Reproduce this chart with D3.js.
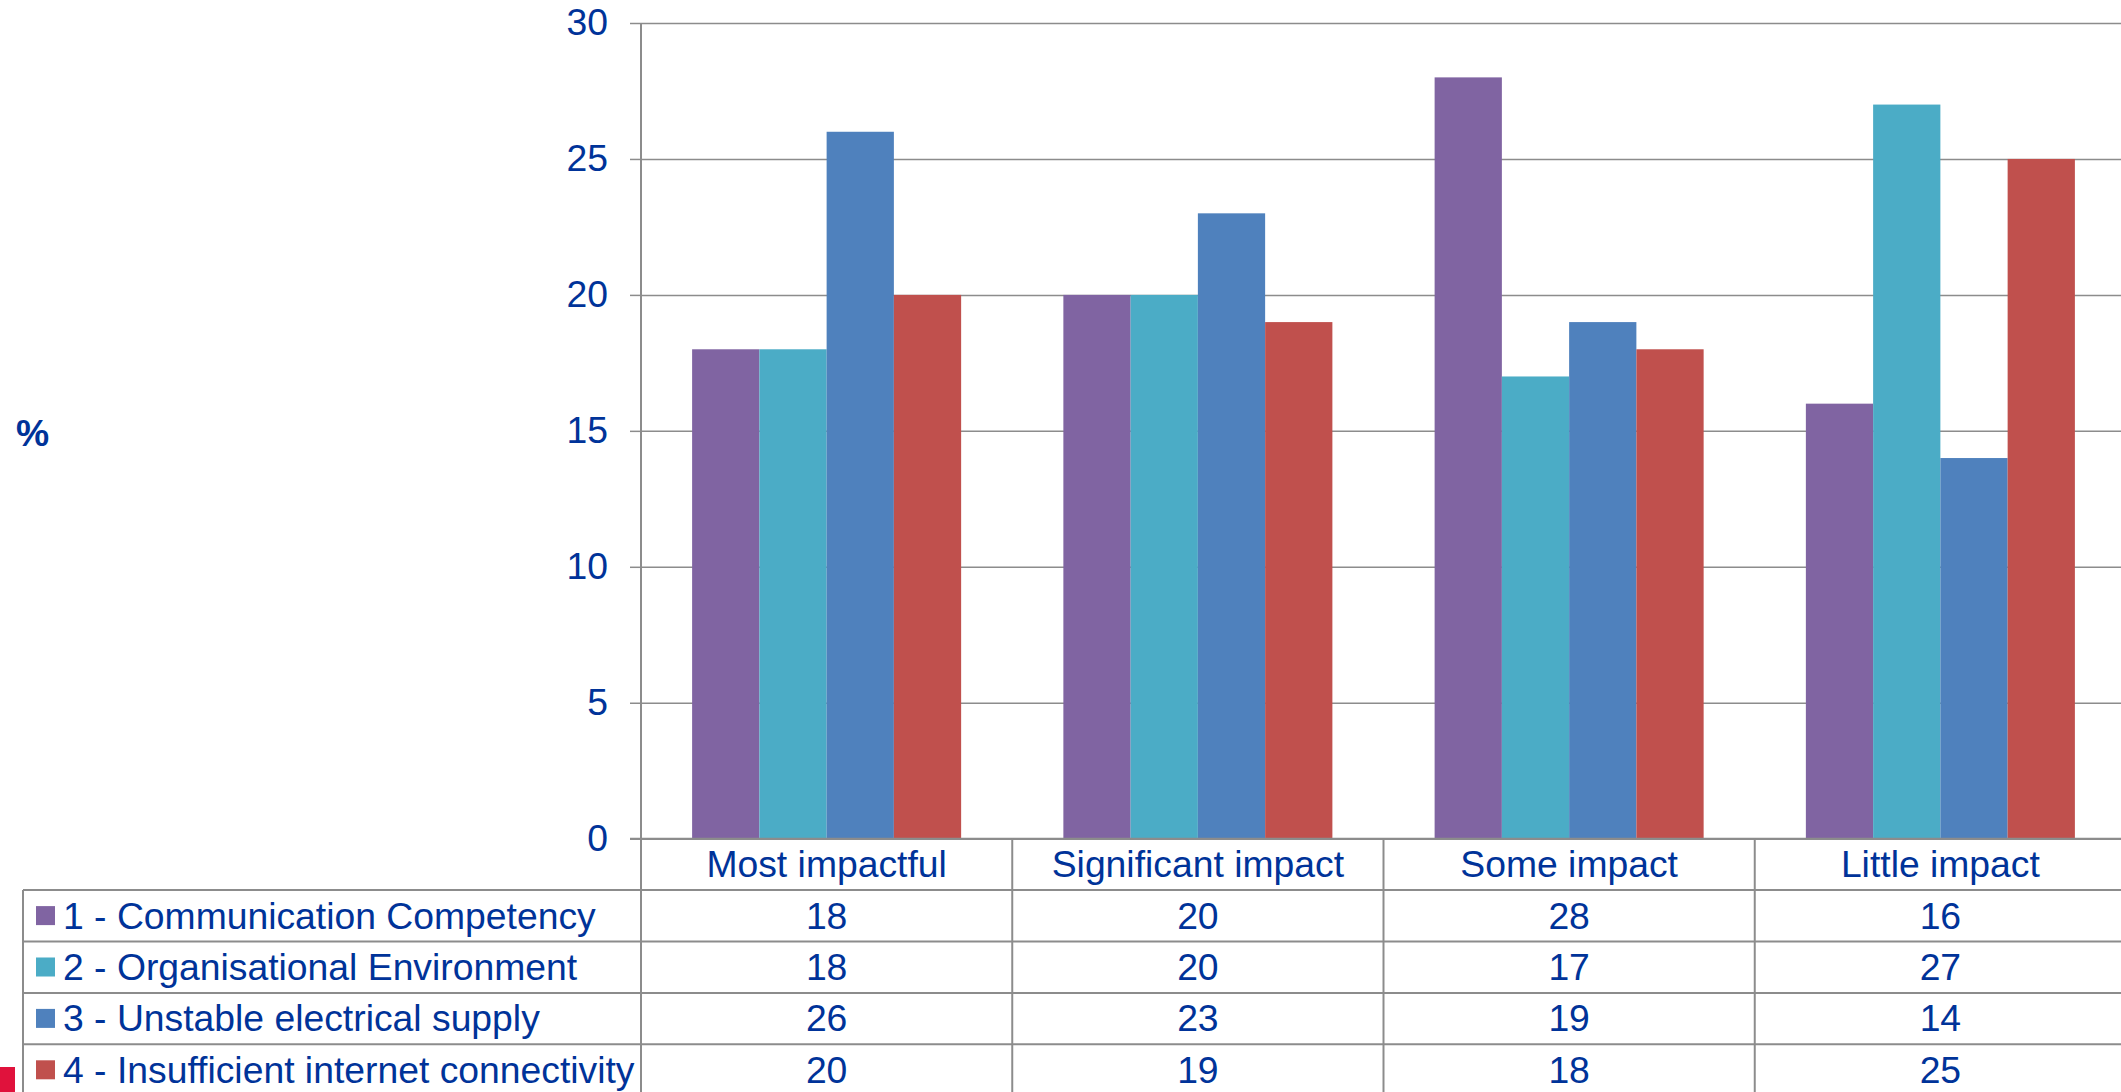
<!DOCTYPE html>
<html>
<head>
<meta charset="utf-8">
<script src="https://cdn.jsdelivr.net/npm/d3@7"></script>
<style>
  body { margin: 0; background: #fff; }
  svg { display: block; font-family: "Liberation Sans", Arial, sans-serif; }
</style>
</head>
<body>
<svg id="chart"></svg>
<script>
// chart data
const categories = ['Most impactful', 'Significant impact', 'Some impact', 'Little impact'];
const seriesNames = [
  '1 - Communication Competency',
  '2 - Organisational Environment',
  '3 - Unstable electrical supply',
  '4 - Insufficient internet connectivity'
];
const commCompetency = [18, 20, 28, 16];
const orgEnvironment = [18, 20, 17, 27];
const electricalSupply = [26, 23, 19, 14];
const internetConn = [20, 19, 18, 25];
const yTicks = [0, 5, 10, 15, 20, 25, 30];

const seriesValues = [commCompetency, orgEnvironment, electricalSupply, internetConn];
const colors = ['#8064A2', '#4BACC6', '#4F81BD', '#C0504D'];

const W = 2121, H = 1092;
const textColor = '#003399';
const lineColor = '#8c8c8c';
const fontSize = '37.3px';

const svg = d3.select('#chart')
  .attr('width', W)
  .attr('height', H);

// scales
const x = d3.scaleBand()
  .domain(categories)
  .range([641, 2126])
  .padding(0);

const x1 = d3.scaleBand()
  .domain(seriesNames)
  .range([0, x.bandwidth()])
  .paddingInner(0)
  .paddingOuter(0.76);

const y = d3.scaleLinear()
  .domain([0, 30])
  .range([838.7, 23]);

// gridlines
svg.append('g')
  .attr('transform', `translate(641,0)`)
  .call(d3.axisLeft(y).tickValues(yTicks).tickSize(-(2126 - 641)).tickFormat(''))
  .call(g => g.select('.domain').remove())
  .call(g => g.selectAll('line').attr('stroke', lineColor).attr('stroke-width', 1.5));

// y axis ticks + labels
svg.append('g')
  .attr('transform', `translate(641,0)`)
  .call(d3.axisLeft(y).tickValues(yTicks).tickSize(11).tickPadding(22))
  .call(g => g.select('.domain').remove())
  .call(g => g.selectAll('line').attr('stroke', lineColor).attr('stroke-width', 1.5))
  .call(g => g.selectAll('text')
    .attr('fill', textColor)
    .style('font-size', fontSize)
    .style('font-family', '"Liberation Sans", Arial, sans-serif'));

// y axis line, running down through the table
svg.append('line')
  .attr('x1', 641).attr('x2', 641)
  .attr('y1', y(30)).attr('y2', H)
  .attr('stroke', lineColor).attr('stroke-width', 2);

// bars
const groups = svg.selectAll('.grp')
  .data(categories)
  .join('g')
  .attr('class', 'grp')
  .attr('transform', d => `translate(${x(d)},0)`);

groups.selectAll('rect')
  .data((c, ci) => seriesNames.map((s, si) => ({ s, si, v: seriesValues[si][ci] })))
  .join('rect')
  .attr('x', d => x1(d.s))
  .attr('y', d => y(d.v))
  .attr('width', x1.bandwidth())
  .attr('height', d => y(0) - y(d.v))
  .attr('fill', d => colors[d.si]);

// % label
svg.append('text')
  .attr('x', 16)
  .attr('y', 446)
  .attr('fill', textColor)
  .style('font-size', fontSize)
  .style('font-weight', 'bold')
  .text('%');

// data table
const rowH = 51.4;
const headTop = y(0);
const rowTop = i => headTop + (i + 1) * rowH;

// x axis line / header top
svg.append('line')
  .attr('x1', 630).attr('x2', W)
  .attr('y1', headTop).attr('y2', headTop)
  .attr('stroke', lineColor).attr('stroke-width', 2);

// row separators
svg.selectAll('.rowline')
  .data(seriesNames)
  .join('line')
  .attr('x1', 23).attr('x2', W)
  .attr('y1', (d, i) => rowTop(i)).attr('y2', (d, i) => rowTop(i))
  .attr('stroke', lineColor).attr('stroke-width', 2);

// column separators
svg.selectAll('.colline')
  .data(categories.slice(1))
  .join('line')
  .attr('x1', d => x(d)).attr('x2', d => x(d))
  .attr('y1', headTop).attr('y2', H)
  .attr('stroke', lineColor).attr('stroke-width', 2);

svg.append('line')
  .attr('x1', 23).attr('x2', 23)
  .attr('y1', rowTop(0)).attr('y2', H)
  .attr('stroke', lineColor).attr('stroke-width', 2);

// header labels
svg.selectAll('.cat')
  .data(categories)
  .join('text')
  .attr('x', d => x(d) + x.bandwidth() / 2)
  .attr('y', headTop + 38)
  .attr('text-anchor', 'middle')
  .attr('fill', textColor)
  .style('font-size', fontSize)
  .text(d => d);

// legend column
seriesNames.forEach((s, si) => {
  const top = rowTop(si);
  svg.append('rect')
    .attr('x', 36).attr('y', top + 16)
    .attr('width', 19).attr('height', 19)
    .attr('fill', colors[si]);
  svg.append('text')
    .attr('x', 63).attr('y', top + 38.5)
    .attr('fill', textColor)
    .style('font-size', fontSize)
    .text(s);
  // values
  svg.selectAll('.val' + si)
    .data(seriesValues[si])
    .join('text')
    .attr('x', (d, ci) => x(categories[ci]) + x.bandwidth() / 2)
    .attr('y', top + 38.5)
    .attr('text-anchor', 'middle')
    .attr('fill', textColor)
    .style('font-size', fontSize)
    .text(d => d);
});

// little red slide marker at bottom left
svg.append('rect')
  .attr('x', 0).attr('y', 1067)
  .attr('width', 15).attr('height', H - 1067)
  .attr('fill', '#E0123C');
</script>
</body>
</html>
